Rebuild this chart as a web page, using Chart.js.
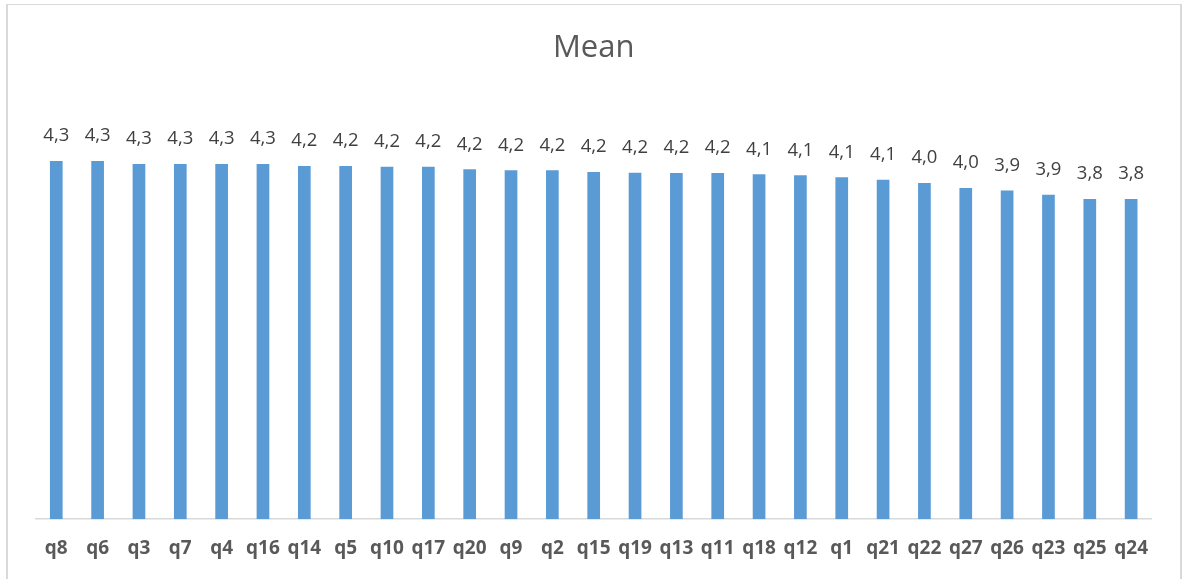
<!DOCTYPE html>
<html>
<head>
<meta charset="utf-8">
<script src="https://cdn.jsdelivr.net/npm/chart.js@4"></script>
<style>
  body { margin: 0; background: #fff; }
  #wrap { position: relative; width: 1186px; height: 579px; overflow: hidden; }
  #frame {
    position: absolute; left: 6px; top: 4px; width: 1172px; height: 600px;
    border-top: 1px solid #d9d9d9; border-left: 2px solid #d9d9d9; border-right: 2px solid #d9d9d9;
    pointer-events: none;
  }
</style>
</head>
<body>
<div id="wrap">
  <canvas id="meanChart"></canvas>
  <div id="frame"></div>
</div>
<script>
// Mean score per question, sorted high to low
const questions = ['q8', 'q6', 'q3', 'q7', 'q4', 'q16', 'q14', 'q5', 'q10', 'q17', 'q20', 'q9', 'q2', 'q15',
    'q19', 'q13', 'q11', 'q18', 'q12', 'q1', 'q21', 'q22', 'q27', 'q26', 'q23', 'q25', 'q24'];
const means = [4.295, 4.295, 4.258, 4.258, 4.258, 4.258, 4.234, 4.234, 4.227, 4.227, 4.195, 4.183, 4.183, 4.163,
    4.155, 4.150, 4.150, 4.135, 4.123, 4.100, 4.070, 4.030, 3.970, 3.940, 3.890, 3.840, 3.840];

// Etiquetas de valor con coma decimal
const valueLabels = {
    id: 'valueLabels',
    afterDatasetsDraw(chart) {
        const ctx = chart.ctx;
        const meta = chart.getDatasetMeta(0);
        ctx.save();
        ctx.font = '18.5px "Open Sans"';
        ctx.fillStyle = '#404040';
        ctx.textAlign = 'center';
        ctx.textBaseline = 'middle';
        meta.data.forEach((bar, i) => {
            const txt = means[i].toFixed(1).replace('.', ',');
            ctx.fillText(txt, bar.x, bar.y - 25);
        });
        ctx.restore();
    }
};

const ctx = document.getElementById('meanChart').getContext('2d');
new Chart(ctx, {
    type: 'bar',
    data: {
        labels: questions,
        datasets: [{
            label: 'Mean',
            data: means,
            backgroundColor: '#5b9bd5',
            barPercentage: 0.307,
            categoryPercentage: 1
        }]
    },
    options: {
        responsive: true,
        maintainAspectRatio: false,
        animation: false,
        layout: {
            padding: { left: 35.6, right: 34.2, top: 0, bottom: 1 }
        },
        plugins: {
            legend: { display: false },
            tooltip: { enabled: false },
            title: {
                display: true,
                text: 'Mean',
                color: '#595959',
                font: { family: '"Open Sans"', size: 31, weight: 'normal' },
                padding: { top: 30, bottom: 35 }
            }
        },
        scales: {
            x: {
                grid: { display: false, drawTicks: false },
                border: { color: '#d9d9d9', width: 1.5 },
                ticks: {
                    color: '#595959',
                    padding: 18,
                    maxRotation: 0,
                    autoSkip: false,
                    font: { family: '"Open Sans"', size: 19, weight: 'bold' }
                }
            },
            y: {
                display: false,
                min: 0,
                max: 5
            }
        }
    },
    plugins: [valueLabels]
});
</script>
</body>
</html>
